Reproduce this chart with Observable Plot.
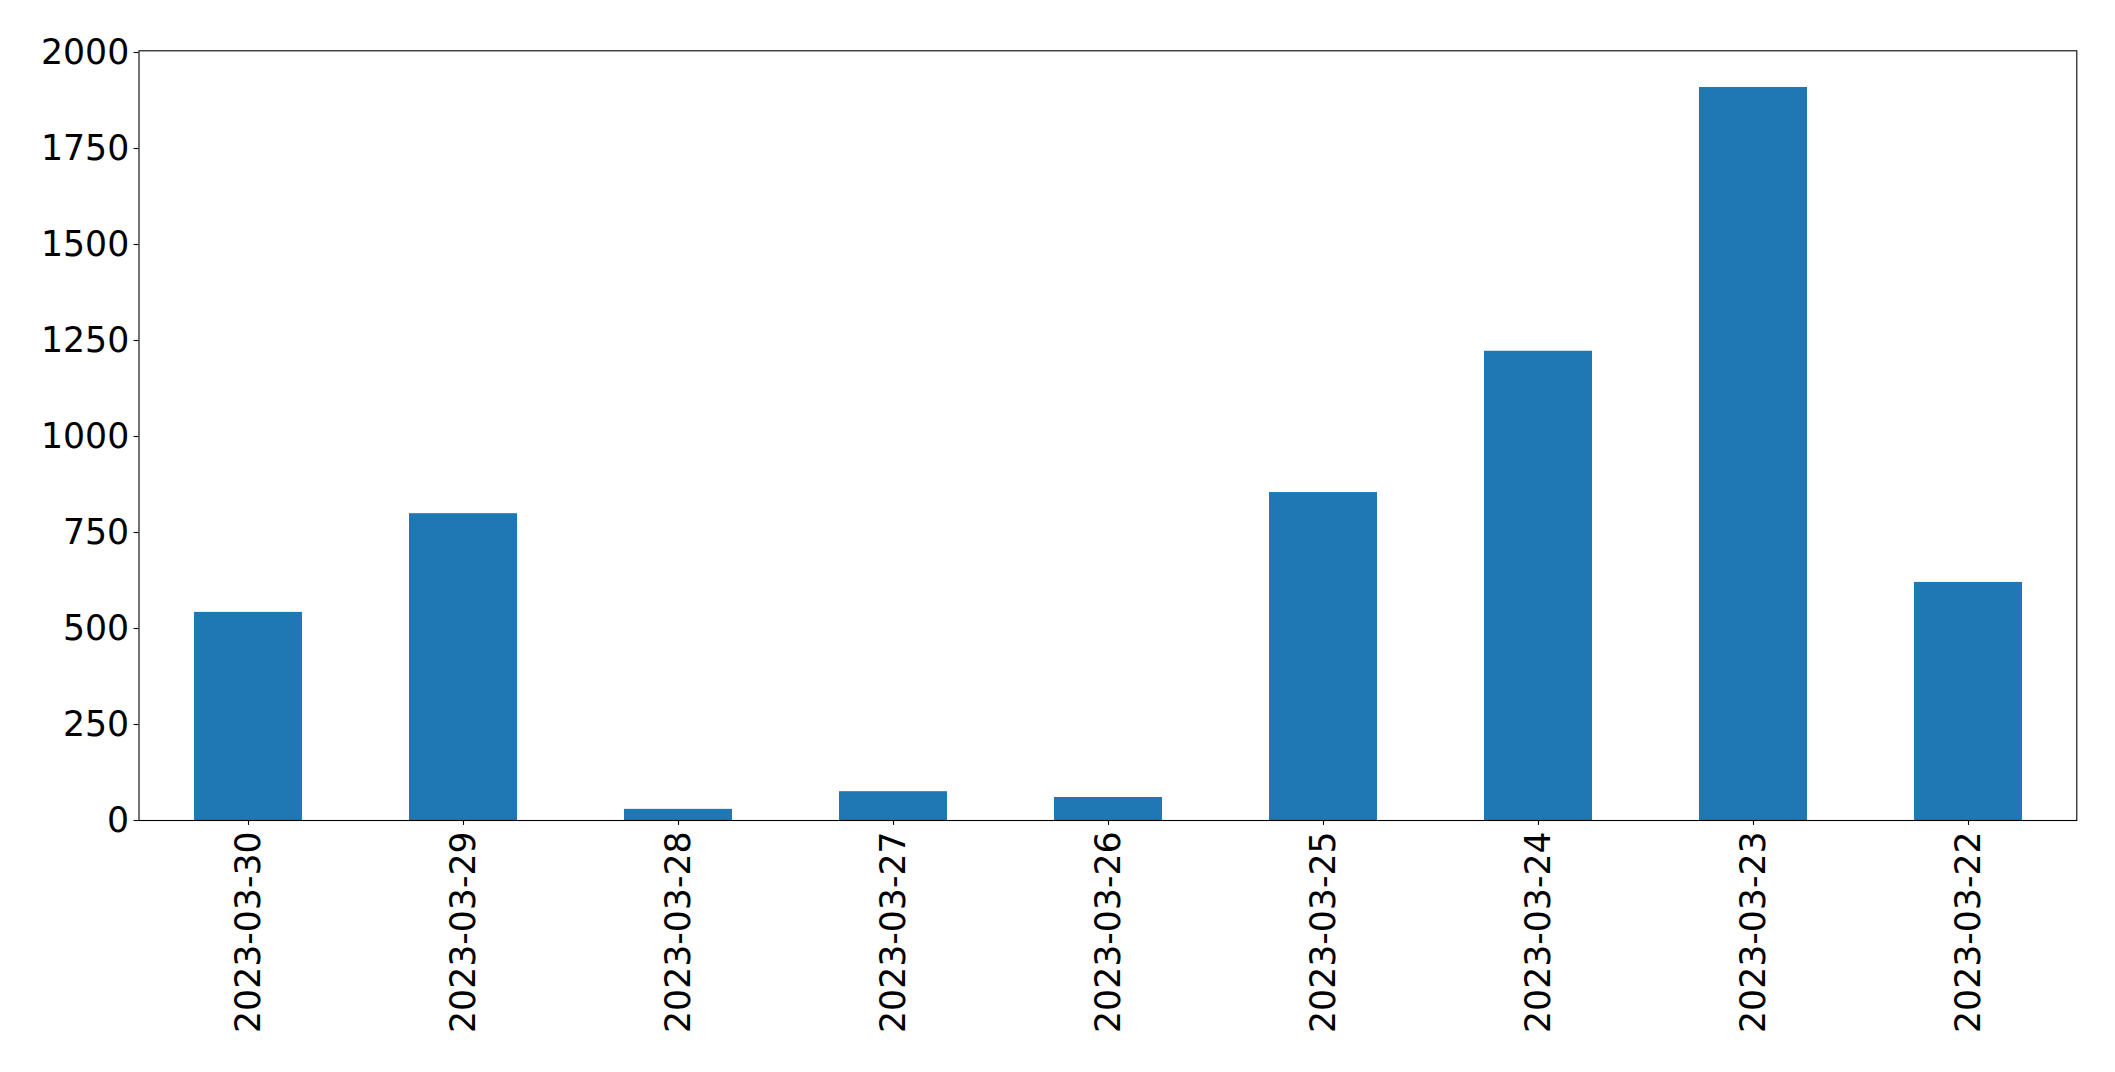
<!DOCTYPE html>
<html>
<head>
<meta charset="utf-8">
<script src="https://cdn.jsdelivr.net/npm/d3@7"></script>
<script src="https://cdn.jsdelivr.net/npm/@observablehq/plot@0.6"></script>
<style>
  html, body { margin: 0; padding: 0; background: #fff; }
  svg { display: block; }
</style>
</head>
<body>
<div id="chart"></div>
<script>
const dates = ["2023-03-30", "2023-03-29", "2023-03-28", "2023-03-27", "2023-03-26", "2023-03-25", "2023-03-24", "2023-03-23", "2023-03-22"];
const counts = [542, 799, 29, 75, 60, 854, 1222, 1909, 620];
const yTicks = [0, 250, 500, 750, 1000, 1250, 1500, 1750, 2000];

const data = dates.map((d, i) => ({date: d, count: counts[i]}));
const yMax = d3.max(counts) * 1.05;

const chart = Plot.plot({
  width: 2115,
  height: 1072,
  marginLeft: 138.5,
  marginRight: 38.7,
  marginTop: 50.3,
  marginBottom: 252,
  style: {fontFamily: "DejaVu Sans", background: "#fff", color: "#000"},
  x: {domain: dates, paddingInner: 0.5, paddingOuter: 0.25},
  y: {domain: [0, yMax]},
  marks: [
    Plot.barY(data, {x: "date", y: "count", fill: "#1f77b4"}),
    Plot.axisY({ticks: yTicks, tickFormat: d => String(d), tickSize: 4.9, tickPadding: 4.9, fontSize: 34.7, stroke: "#000", strokeWidth: 1.1, label: null}),
    Plot.axisX({tickSize: 4.9, tickPadding: 6, tickRotate: -90, fontSize: 34.7, stroke: "#000", strokeWidth: 1.1, label: null}),
    Plot.frame({stroke: "#000", strokeWidth: 1.1})
  ]
});
document.getElementById("chart").appendChild(chart);
</script>
</body>
</html>
